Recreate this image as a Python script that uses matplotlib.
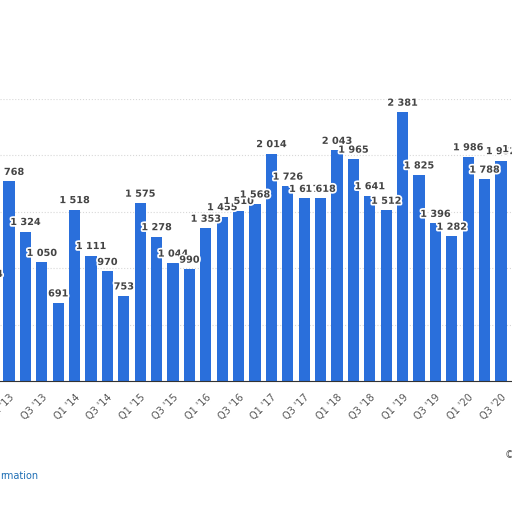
import matplotlib
matplotlib.use("Agg")
from matplotlib import pyplot as plt
import matplotlib.patheffects as pe

quarters = ["Q4 '12",
            "Q1 '13", "Q2 '13", "Q3 '13", "Q4 '13",
            "Q1 '14", "Q2 '14", "Q3 '14", "Q4 '14",
            "Q1 '15", "Q2 '15", "Q3 '15", "Q4 '15",
            "Q1 '16", "Q2 '16", "Q3 '16", "Q4 '16",
            "Q1 '17", "Q2 '17", "Q3 '17", "Q4 '17",
            "Q1 '18", "Q2 '18", "Q3 '18", "Q4 '18",
            "Q1 '19", "Q2 '19", "Q3 '19", "Q4 '19",
            "Q1 '20", "Q2 '20", "Q3 '20", "Q4 '20"]
values = [864,
          1768, 1324, 1050, 691,
          1518, 1111, 970, 753,
          1575, 1278, 1044, 990,
          1353, 1455, 1510, 1568,
          2014, 1726, 1617, 1618,
          2043, 1965, 1641, 1512,
          2381, 1825, 1396, 1282,
          1986, 1788, 1952, 1970]

fig = plt.figure(figsize=(5.12, 5.12), dpi=100)
ax = fig.add_axes([0, 0.256, 1, 0.551])
x = list(range(len(values)))
ax.bar(x, values, width=0.68, color="#2a6fdb", zorder=2)
ax.set_xlim(0.45, 31.67)
ax.set_ylim(0, 2500)
ax.set_yticks([0, 500, 1000, 1500, 2000, 2500])
ax.yaxis.grid(True, color="#d8d8d8", linestyle=":", linewidth=0.8, zorder=0)
ax.tick_params(axis="y", left=False, labelleft=False)
for s in ["top", "right", "left"]:
    ax.spines[s].set_visible(False)
ax.spines["bottom"].set_color("#333333")
ax.set_xticks(x[1::2])
ax.set_xticklabels(quarters[1::2], rotation=45, ha="right", rotation_mode="anchor",
                   fontsize=7, color="#555555")
ax.tick_params(axis="x", length=0, pad=8)

for xi, v in zip(x, values):
    label = f"{v:,}".replace(",", " ")
    t = ax.text(xi, v + 40, label, ha="center", va="bottom", fontsize=7,
                fontweight="bold", color="#444444", zorder=3)
    t.set_path_effects([pe.withStroke(linewidth=2.5, foreground="white")])

fig.text(0.0, 0.065, "rmation", fontsize=7, color="#1f6fb5")
fig.text(0.985, 0.105, "©", fontsize=7, color="#555555")
fig.savefig("out.png", dpi=100)
